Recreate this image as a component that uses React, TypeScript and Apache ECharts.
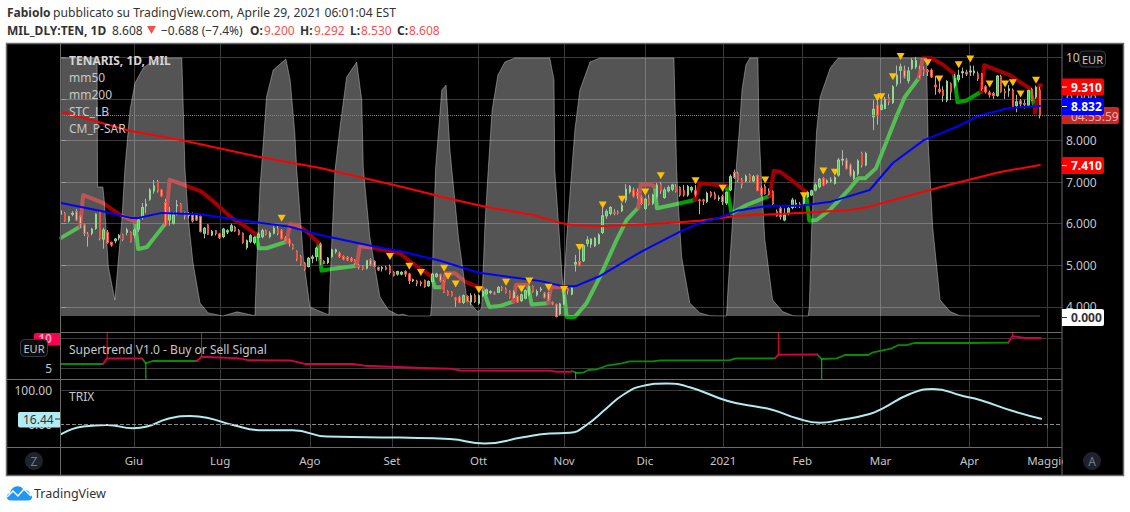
import React, { useEffect, useRef } from "react";
import * as echarts from "echarts";

// [open, close, low, high] per trading day
const ohlcSummer = [
  [6.23,6.31,6.17,6.35],[6.25,6.07,6.05,6.28],[6.07,6.17,6.03,6.19],[6.23,6.25,6.18,6.3],[6.29,6.09,6.07,6.36],
  [6.17,6,5.9,6.2],[5.97,5.77,5.7,6],[5.75,5.69,5.45,5.8],[5.77,5.87,5.72,5.9],[5.89,6.23,5.85,6.25],
  [6.28,5.65,5.6,6.32],[5.63,5.85,5.4,5.9],[5.79,5.55,5.52,5.85],[5.55,5.49,5.45,5.57],[5.59,5.63,5.53,5.65],
  [5.66,5.72,5.6,5.75],[5.73,5.63,5.58,5.76],[5.79,5.85,5.72,5.9],[5.79,5.57,5.55,5.82],[5.73,5.85,5.65,5.9],
  [5.87,6.09,5.8,6.12],[6.17,6.39,6.1,6.5],[6.43,6.47,6.25,6.6],[6.59,6.81,6.55,6.85],[6.79,6.91,6.72,7.05],
  [7.01,6.79,6.75,7.05],[6.81,6.67,6.65,6.83],[6.51,5.97,5.95,6.6],[6.09,6.25,5.95,6.4],[6.01,6.21,5.98,6.28],
  [6.43,6.45,6.2,6.57],[6.47,6.27,6.25,6.5],[6.21,6.19,6.1,6.29],[6.2,6.23,6.12,6.28],[6.21,6.07,6.03,6.27],
  [6.21,6.09,6.07,6.25],[6.17,5.81,5.79,6.2],[5.77,5.89,5.65,5.92],[5.97,5.75,5.73,5.99],[5.73,5.81,5.7,5.85],
  [5.83,5.77,5.72,5.85],[5.75,5.67,5.63,5.78],[5.69,5.87,5.65,5.9],[5.8,5.83,5.75,5.87],[5.83,5.95,5.8,6],
  [5.91,5.83,5.8,5.95],[5.83,5.75,5.72,5.87],[5.77,5.55,5.52,5.79],[5.43,5.59,5.38,5.62],[5.57,5.71,5.53,5.75],
  [5.55,5.67,5.5,5.7],[5.67,5.75,5.62,5.8],[5.69,5.83,5.65,5.88],[5.83,5.75,5.72,5.86],[5.69,5.77,5.65,5.82],
  [5.77,5.89,5.74,5.95],[5.87,5.77,5.72,5.97],[5.83,5.65,5.62,5.87],[5.65,5.61,5.58,5.7],[5.61,5.53,5.45,5.65],
  [5.49,5.41,5.38,5.52],[5.33,5.15,5.1,5.36],[5.21,5.03,5,5.25],[5.05,4.91,4.87,5.08],[4.97,5.17,4.95,5.2],
  [5.17,5.2,5.05,5.25],[5.21,5.41,5.1,5.45],[5.51,5.13,5,5.55],[5.09,5.05,5.03,5.12],[5.07,5.17,5.03,5.2],
  [5.21,5.37,5.18,5.4],[5.33,5.37,5.28,5.4],[5.29,5.21,5.18,5.33],[5.21,5.15,5.12,5.24],[5.19,5.13,5.1,5.22],
  [5.16,5.11,5.08,5.2],[5.11,5.05,5.02,5.15],[5,4.95,4.9,5.03],[4.97,4.92,4.88,5],[4.93,5.11,4.9,5.13],
  [5.13,5.01,4.98,5.17],[5.09,4.97,4.95,5.12],[4.95,4.89,4.87,4.97],[4.93,4.95,4.85,4.98],[4.95,4.91,4.88,4.99],
  [4.97,4.83,4.78,5.02],[4.83,4.76,4.73,4.86],[4.79,4.85,4.75,4.87],
];
const ohlcAutumn = [
  [4.79,4.83,4.76,4.86],[4.85,4.79,4.72,4.88],[4.79,4.63,4.55,4.82],[4.63,4.65,4.6,4.68],[4.62,4.57,4.5,4.65],
  [4.59,4.57,4.5,4.63],[4.63,4.49,4.46,4.66],[4.51,4.61,4.48,4.64],[4.61,4.79,4.58,4.82],[4.73,4.79,4.7,4.82],
  [4.77,4.63,4.6,4.8],[4.61,4.35,4.33,4.64],[4.37,4.29,4.27,4.4],[4.35,4.27,4.25,4.38],[4.21,4.17,4,4.24],
  [4.23,4.11,4.09,4.27],[4.11,4.27,4.07,4.3],[4.25,4.13,4.11,4.28],[4.12,4.27,4.05,4.33],[4.27,4.13,4.1,4.32],
  [4.09,4.27,4.05,4.3],[4.27,4.37,4.24,4.4],[4.31,4.41,4.28,4.44],[4.35,4.37,4.31,4.4],[4.33,4.31,4.29,4.37],
  [4.35,4.47,4.33,4.5],[4.46,4.43,4.38,4.5],[4.43,4.35,4.32,4.47],[4.37,4.23,4.2,4.4],[4.23,4.35,4.2,4.4],
  [4.25,4.12,4.1,4.28],[4.15,4.29,4.12,4.32],[4.21,4.39,4.18,4.42],[4.29,4.49,4.26,4.52],[4.49,4.37,4.34,4.52],
  [4.29,4.37,4.25,4.42],[4.41,4.43,4.36,4.48],[4.33,4.23,4.2,4.36],[4.33,4.17,4.14,4.36],[4.11,4.07,4.04,4.13],
  [4.05,3.77,3.75,4.08],[3.83,4.07,3.8,4.1],[4.07,4.29,4.05,4.33],[4.43,4.39,4.3,4.45],[4.31,4.45,4.28,4.47],
  [5.03,5.07,4.85,5.25],[5.09,5.01,4.98,5.35],[5.11,5.47,5.08,5.5],[5.53,5.61,5.45,5.7],[5.51,5.63,5.42,5.65],
  [5.47,5.65,5.44,5.68],[5.53,5.73,5.5,5.77],[5.79,6.19,5.75,6.4],[6.19,6.29,6.12,6.35],[6.25,6.39,6.2,6.42],
  [6.27,6.25,6.2,6.35],[6.28,6.26,6.22,6.32],[6.31,6.43,6.28,6.5],[6.57,6.83,6.5,6.95],[6.77,6.89,6.72,6.93],
  [6.81,6.67,6.63,6.87],[6.75,6.67,6.6,6.85],[6.63,6.49,6.45,6.68],[6.37,6.59,6.33,6.62],[6.61,6.47,6.44,6.7],
  [6.49,6.69,6.45,6.72],[6.65,6.93,6.6,6.98],[6.95,6.79,6.72,7],[6.63,6.81,6.6,6.87],[6.79,6.87,6.75,6.92],
  [6.83,6.93,6.78,6.96],[6.89,6.79,6.75,6.95],[6.87,6.69,6.65,6.9],[6.79,6.69,6.65,6.93],[6.69,6.89,6.65,6.93],
  [6.81,6.87,6.75,6.9],[6.79,6.71,6.65,6.93],[6.57,6.55,6.23,6.6],[6.57,6.55,6.45,6.6],[6.53,6.73,6.5,6.77],
  [6.75,6.67,6.63,6.78],[6.71,6.61,6.58,6.77],[6.6,6.62,6.55,6.68],
];
const ohlcWinter = [
  [6.65,6.53,6.45,6.7],[6.5,6.75,6.45,6.78],[6.81,7.13,6.78,7.18],[7.23,7.11,7.08,7.3],[7.2,7.05,7,7.25],
  [7.05,6.95,6.85,7.1],[7.03,7.14,7,7.18],[7.17,7.03,7,7.2],[7.03,7.13,7,7.17],[7.15,6.8,6.78,7.18],
  [6.85,6.71,6.65,6.9],[6.89,6.73,6.7,6.95],[6.78,6.71,6.68,6.85],[6.77,6.49,6.45,6.8],[6.29,6.19,6.17,6.34],
  [6.37,6.17,6.1,6.42],[6.09,6.21,6.06,6.37],[6.25,6.37,6.2,6.4],[6.39,6.57,6.35,6.62],[6.47,6.49,6.38,6.58],
  [6.47,6.43,6.38,6.52],[6.49,6.67,6.45,6.7],[6.65,6.75,6.62,6.78],[6.69,6.79,6.66,6.82],[6.81,6.93,6.78,6.97],
  [6.89,7.07,6.85,7.1],[7.09,6.93,6.9,7.12],[7,7.03,6.95,7.07],[7.03,7.05,6.98,7.12],[6.97,7.11,6.94,7.14],
  [7.17,7.53,7.13,7.58],[7.53,7.55,7.4,7.77],[7.53,7.33,7.3,7.58],
  [7.41,7.17,7.13,7.45],[7.09,7.25,7.05,7.3],[7.2,7.51,7.15,7.55],[7.69,7.41,7.35,7.73],[7.41,7.69,7.38,7.73],
];
// an empty slot in the bar grid sits at the March price gap
const gapBars = 1;
const ohlcSpring = [
  [8.57,8.75,8.25,8.97],[8.85,8.61,8.38,8.97],[8.75,8.85,8.73,8.97],[8.77,8.99,8.75,9.05],[9.02,8.93,8.85,9.12],
  [8.91,9.29,8.88,9.33],[9.36,9.57,9.3,9.8],[9.69,9.77,9.37,9.85],[9.69,9.53,9.49,9.8],[9.44,9.67,9.37,9.77],
  [9.74,9.92,9.7,9.98],[9.77,9.92,9.72,10.01],[9.71,9.57,9.5,9.8],[9.7,9.65,9.55,9.78],[9.68,9.66,9.55,9.72],
  [9.69,9.53,9.5,9.73],[9.33,9.29,9.1,9.55],[9.23,9.18,9.13,9.4],[9.21,9.08,8.93,9.3],[8.97,9.42,8.92,9.45],
  [9.36,9.17,8.97,9.4],[9.31,9.49,9.25,9.6],[9.47,9.57,9.4,9.7],[9.63,9.65,9.5,9.75],[9.64,9.6,9.55,9.7],
  [9.65,9.67,9.55,9.8],[9.63,9.67,9.56,9.8],[9.6,9.49,9.43,9.66],[9.6,9.25,9.2,9.62],[9.29,9.17,9.13,9.33],
  [9.15,9.1,9.03,9.2],[9.13,9.08,9,9.17],[9.08,9.55,9.05,9.57],[9.53,9.17,9.15,9.58],[9.18,9.15,9,9.25],
  [9.2,9.24,9.05,9.33],[9.21,8.81,8.78,9.25],[8.84,8.93,8.68,9.1],[8.95,8.88,8.78,9],[8.89,8.87,8.77,8.98],
  [8.85,9.2,8.82,9.22],[9.23,8.97,8.95,9.26],[9.05,9.28,9,9.32],[9.2,8.608,8.53,9.292],
];

// [bar, value] readings
const mm50 = [[0,6.5],[10,6.31],[18,6.14],[20,6.14],[26,6.26],[36,6.23],[46,6.09],[59,5.93],[67,5.73],[80,5.47],[88,5.33],[98,5.11],[108,4.82],[124,4.62],[130,4.49],[133,4.5],[139,4.73],[150,5.33],[160,5.81],[165,6.02],[170,6.14],[175,6.32],[183,6.43],[191,6.43],[199,6.53],[204,6.67],[209,6.81],[215,7.46],[223,8.01],[232,8.35],[237,8.59],[245,8.78],[253,8.832]];
const mm200 = [[0,8.69],[18,8.23],[31,8.01],[51,7.61],[67,7.34],[88,6.89],[101,6.59],[110,6.4],[122,6.21],[129,6.02],[132,5.97],[139,5.94],[148,5.97],[157,6.02],[165,6.07],[175,6.19],[191,6.26],[204,6.33],[209,6.41],[217,6.62],[230,6.95],[243,7.25],[253,7.41]];
const stcLb = [[0,100],[9.3,100],[9.4,50],[10.8,50],[11.2,43.8],[12.2,19.1],[13.9,6.2],[14.8,21.7],[15.7,37.2],[16.5,57.4],[17.8,79.8],[19.1,90.3],[21.2,96.1],[24.8,100],[31.2,100],[32,57.4],[32.9,37.2],[34.1,20.5],[35.9,5],[38,1.2],[41.8,0],[45.5,1.6],[50.1,0.1],[50.5,17.8],[51.4,50],[51.8,57.4],[53.1,84.9],[54.8,95.3],[58.1,99.6],[59.2,91.5],[60.4,70.9],[60.9,56.6],[62.6,22.9],[64.3,3.5],[66.1,2.3],[68.6,0.8],[69.2,0.4],[69.5,12.8],[70.8,56.6],[72.1,73.3],[73.8,92.6],[76.4,98.4],[77.7,83.7],[78.1,57.4],[79.8,30.6],[82.4,7.4],[84.6,2.3],[87.1,0.4],[88.4,0.7],[89.7,0],[95.5,0],[95.8,5],[96.2,30.6],[96.8,57.4],[98.4,87.6],[99.5,89.5],[100.5,64.3],[101,56.6],[102.7,30.6],[104.8,7.4],[106.5,3.5],[107.8,1.6],[108.7,3.1],[109.1,17.8],[109.6,37.2],[110.4,56.6],[111.4,79.8],[112.9,93.4],[114.7,98.4],[117.3,100],[126.3,100],[127.4,91.5],[127.6,56.6],[128.5,37.2],[129.8,8.9],[130.7,30.6],[132,56.6],[132.8,72.1],[134.1,87.6],[136.7,98.4],[139.3,100],[158.4,100],[159.1,56.6],[159.5,43.8],[160.4,22.9],[162.5,5],[165.1,1.2],[167.7,0.1],[172,0],[172.4,11.2],[173.7,39.9],[174.6,59.3],[175.3,72.1],[176,87.6],[177,97.3],[178,100],[180.1,100],[180.4,72.1],[181,52.7],[181.9,29.5],[183.9,6.2],[186.5,1.7],[189.2,0.1],[193.1,0],[193.4,3.5],[194,34],[195.3,72.1],[196.2,84.9],[198.8,96.1],[200.8,99.9],[223.7,100],[224.1,68.2],[225.3,34.1],[227.2,6.2],[229.8,1.7],[232.3,0.1],[235.7,0],[253,0]];

const psarGreen = [
  [[0,5.66],[4.9,5.93]],
  [[19.1,6.05],[19.9,5.39],[22.2,5.44],[24.3,5.69],[27.1,6.02]],
  [[50.3,5.75],[51.1,5.41],[53.1,5.41],[58.3,5.57]],
  [[66.5,5.54],[67.3,4.87],[69.9,4.91],[76.4,4.99]],
  [[95.8,4.73],[96.6,4.47],[98.6,4.47]],
  [[109,4.43],[110.7,4],[113.4,4.02],[116.9,4.13]],
  [[120.7,4.53],[121.6,4.06],[125.9,4.09]],
  [[129.8,4.47],[130.7,3.76],[132.8,3.76],[135.8,4.09],[139.3,4.73],[143.6,5.61],[146.2,6.09],[149.2,6.39]],
  [[153.5,6.89],[154,6.37],[156.5,6.42],[163.8,6.57]],
  [[172,6.91],[173.3,6.25],[177.2,6.45],[183.2,6.67]],
  [[192.5,6.77],[193.4,6.07],[195.3,6.09],[198.7,6.33],[203.9,6.85],[206,7.09],[207.8,7.09],[210.6,7.33],[215.9,8.57],[218.1,9.05],[221.7,9.5]],
  [[230.8,9.6],[231.7,8.92],[234,8.96],[237.8,9.17]],
  [[250.4,9.25],[251.5,8.85]],
];
const psarRed = [
  [[4.9,5.93],[5.7,6.69],[10.8,6.5],[15.2,6.21],[19.1,6.05]],
  [[27.1,6.02],[28,7.05],[29.9,7],[36.3,6.77],[39.8,6.5],[44.1,6.14],[47,5.97],[50.3,5.75]],
  [[58.3,5.57],[59.2,5.99],[60.9,5.97],[63.5,5.81],[66.5,5.54]],
  [[76.4,4.99],[77.2,5.46],[80.3,5.43],[87.6,5.29],[88.5,5.22],[90.6,5.06],[95.8,4.73]],
  [[98.6,4.47],[99.4,4.81],[101.8,4.81],[104.4,4.61],[109,4.43]],
  [[116.9,4.13],[117.6,4.53],[120.7,4.53]],
  [[125.9,4.09],[126.6,4.47],[129.8,4.47]],
  [[149.2,6.39],[149.8,6.93],[152.2,6.95],[153.5,6.89]],
  [[163.8,6.57],[165.1,6.97],[172,6.91]],
  [[183.2,6.67],[184.2,7.27],[185.8,7.25],[188.8,7.05],[192.5,6.77]],
  [[221.7,9.5],[222.7,9.98],[225,9.98],[228,9.82],[230.8,9.6]],
  [[237.8,9.17],[238.6,9.81],[245.2,9.57],[250.4,9.25]],
  [[251.7,8.85],[251.7,8.67],[252.9,9.33],[253.3,9.33]],
];
const sarSignals = [[57,6.13],[85,5.21],[90,4.98],[93,4.83],[99,4.93],[100,4.74],[102,4.55],[108,4.41],[115,4.59],[119,4.43],[121,4.62],[126,4.47],[130,4.42],[134,5.43],[140,6.45],[145,6.59],[151,6.76],[155,7.15],[164,7.03],[171,6.85],[182,7.05],[192,6.67],[197,7.27],[200,7.24],[211,9.03],[212,9.05],[215,9.53],[217,10.02],[224,9.87],[227,9.48],[232,9.82],[235,9.96],[240,9.36],[244,9.36],[246,9.39],[248,9.12],[252,9.45]];

const stGreen = [
  [[0,5.67],[10.8,5.67]],
  [[20.9,6.6],[21.9,5.8],[23.7,6.17],[35.1,6.17]],
  [[132,4.5],[133.3,4.17],[134.9,4.22],[136.3,4.67],[138.4,4.78],[141,5.38],[144.9,5.78],[147,6.12],[153,6.12],[154.8,6.28],[172.9,6.33],[174.4,6.62],[184.5,6.62]],
  [[195.4,7.28],[196.6,6.5],[200.5,6.62],[202.6,7.17],[208.6,7.17],[209.9,7.62],[214.7,8.28],[216.4,8.83],[218.5,8.83],[220.7,9.17],[234,9.17],[244.8,9.22]],
];
const stRed = [
  [[10.8,5.67],[11.9,6.6],[20.9,6.6]],
  [[35.1,6.17],[36.3,6.88],[46.2,6.6],[48.3,6.33],[59.2,6.28],[63,5.67],[75.4,5.67],[78.5,5.38],[93.5,5],[100.5,4.9],[103.1,4.6],[126.3,4.55],[128.1,4.38],[132,4.38]],
  [[184.5,6.62],[185.4,7.22],[195.4,7.28]],
  [[244.8,9.22],[245.9,10.33],[249.1,10],[253.2,10]],
];
const stBuySpikes = [[[21.9,5.8],[21.9,3.17]],[[133,4.3],[133,3.17]],[[196.6,6.5],[196.6,3.17]]];
const stSellSpikes = [[[11.9,6.6],[11.9,11]],[[36.3,6.88],[36.3,11]],[[185.4,7.22],[185.4,11]],[[245.9,10.33],[245.9,11]]];

const trix = [[0,-28],[5.7,-6],[11.9,-1.4],[18.6,-11],[22.2,-6],[27.4,16],[33.3,24.6],[37.7,19.7],[44.4,-1.4],[52.2,-17],[59.9,-17],[68.7,-35],[79.1,-37],[87.6,-38],[100.5,-42],[109.5,-55],[119.4,-37],[126.3,-26],[131.5,-24],[135.8,-1.4],[141,47],[145.2,85.5],[150.4,112],[156.6,119],[162.5,108],[172.1,69],[178.8,53.6],[184,42],[190.2,18],[196.1,5.2],[201.3,13],[209,30.4],[212.4,47],[219.4,88.4],[225.3,103],[233.1,82.6],[237.5,71],[246,39],[253.3,16.44]];

const monthBars = [18.8, 41.1, 64.3, 85.5, 107.9, 130, 150.9, 171.1, 191.6, 211.8, 234.8, 255];
const monthNames = ["Giu", "Lug", "Ago", "Set", "Ott", "Nov", "Dic", "2021", "Feb", "Mar", "Apr", "Maggio"];
const priceTicks = [4, 5, 6, 7, 8, 9, 10];
const lastPrice = 8.608;

const FONT = '"Noto Sans", sans-serif';
const GRIDLINE = "#3a3a3a";
const FRAME = "#6b6b6b";
const LABEL = "#c6c6c6";

echarts.graphic.registerShape(
  "tvCloud",
  echarts.graphic.extendPath(
    "M5 15 C0 15 -1 9 4 7.5 C5 3 9 0 13 1 C15 1 17 3 18 5 C21 4 24 6 24 9 C27 10 27 15 22 15 Z",
    {}
  )
);

function txt(text: string, x: number, y: number, fill: string, size = 12, weight = "normal", align = "left") {
  return {
    type: "text",
    x,
    y,
    style: { text, fill, font: `${weight} ${size}px ${FONT}`, align, verticalAlign: "middle" },
  };
}
function tag(label: string, y: number, bg: string, color: string) {
  return [
    { type: "rect", shape: { x: 1062, y: y - 8.5, width: 42, height: 17, r: [0, 2, 2, 0] }, style: { fill: bg } },
    { type: "line", shape: { x1: 1062, y1: y, x2: 1067, y2: y }, style: { stroke: color, lineWidth: 1 } },
    txt(label, 1071, y, color, 12, "bold"),
  ];
}
function lineSeries(data: number[][], xAxisIndex: number, yAxisIndex: number, color: string, width: number, z: number, smooth = false) {
  return {
    type: "line",
    data,
    xAxisIndex,
    yAxisIndex,
    z,
    smooth,
    symbol: "none",
    silent: true,
    lineStyle: { color, width, join: "round", cap: "round" },
  };
}
function xAxisFor(gridIndex: number, labels: boolean) {
  return {
    type: "value",
    gridIndex,
    min: -0.29,
    max: 258.71,
    axisLine: { show: false },
    axisTick: { show: labels, customValues: monthBars, length: 4, lineStyle: { color: FRAME } },
    axisLabel: {
      show: labels,
      customValues: monthBars,
      color: LABEL,
      fontFamily: FONT,
      fontSize: 11.5,
      margin: 7,
      formatter: (v: number) => monthNames[monthBars.indexOf(v)] ?? "",
    },
    splitLine: { show: true, lineStyle: { color: GRIDLINE, width: 1 } },
  };
}

export default function App() {
  const ref = useRef<HTMLDivElement>(null);
  useEffect(() => {
    const chart = echarts.init(ref.current!, undefined, { renderer: "svg" });
    const elements: any[] = [
      // header
      txt("Fabiolo", 7, 12, "#333", 12, "bold"),
      txt("pubblicato su TradingView.com, Aprile 29, 2021 06:01:04 EST", 53, 12, "#333", 12.15),
      txt("MIL_DLY:TEN, 1D", 7, 30, "#333", 12, "bold"),
      txt("8.608", 112, 30, "#333"),
      { type: "polygon", shape: { points: [[147, 26], [156, 26], [151.5, 34]] }, style: { fill: "#ef5350" } },
      txt("\u22120.688 (\u22127.4%)", 161, 30, "#333"),
      txt("O:", 250, 30, "#333", 12, "bold"),
      txt("9.200", 264, 30, "#ef5350"),
      txt("H:", 300, 30, "#333", 12, "bold"),
      txt("9.292", 314, 30, "#ef5350"),
      txt("L:", 350, 30, "#333", 12, "bold"),
      txt("8.530", 361, 30, "#ef5350"),
      txt("C:", 397, 30, "#333", 12, "bold"),
      txt("8.608", 409, 30, "#ef5350"),
      // clipped end of the last month label
      { type: "rect", shape: { x: 1063, y: 449, width: 8, height: 22 }, style: { fill: "#000" } },
      // frame and pane separators
      { type: "rect", shape: { x: 6.5, y: 43.5, width: 1117, height: 432 }, style: { fill: "none", stroke: FRAME, lineWidth: 1.5 } },
      { type: "line", shape: { x1: 60.5, y1: 43, x2: 60.5, y2: 475 }, style: { stroke: FRAME, lineWidth: 1 } },
      { type: "line", shape: { x1: 1062, y1: 43, x2: 1062, y2: 475 }, style: { stroke: FRAME, lineWidth: 1 } },
      { type: "line", shape: { x1: 60, y1: 332.5, x2: 1062, y2: 332.5 }, style: { stroke: FRAME, lineWidth: 1 } },
      { type: "line", shape: { x1: 6, y1: 379.5, x2: 1062, y2: 379.5 }, style: { stroke: FRAME, lineWidth: 1 } },
      { type: "line", shape: { x1: 6, y1: 447.5, x2: 1062, y2: 447.5 }, style: { stroke: FRAME, lineWidth: 1 } },
      // pane titles
      txt("TENARIS, 1D, MIL", 69, 60, "#d4d4d4", 12, "bold"),
      txt("mm50", 69, 77, "#c8c8c8"),
      txt("mm200", 69, 94, "#c8c8c8"),
      txt("STC_LB", 69, 111, "#c8c8c8"),
      txt("CM_P-SAR", 69, 128, "#c8c8c8"),
      txt("Supertrend V1.0 - Buy or Sell Signal", 69, 349, "#c8c8c8"),
      txt("TRIX", 69, 396, "#c8c8c8"),
      // price tags
      { type: "rect", shape: { x: 1062, y: 107, width: 57, height: 17, r: [0, 2, 2, 0] }, style: { fill: "#c62828" } },
      txt("04:55:59", 1071, 116, "#eeb0a8"),
      ...tag("9.310", 87, "#ff0000", "#fff"),
      ...tag("8.832", 106.5, "#0000ff", "#fff"),
      ...tag("7.410", 165.6, "#ff0000", "#fff"),
      ...tag("0.000", 317.5, "#ffffff", "#333"),
      // EUR buttons
      { type: "rect", shape: { x: 1079.5, y: 51, width: 26, height: 16, r: 4 }, style: { fill: "#0c0c0c", stroke: "#363a45" } },
      txt("EUR", 1092.5, 59.5, "#c8c8c8", 11, "normal", "center"),
      // left-hand tags
      { type: "rect", shape: { x: 34, y: 333, width: 26, height: 12.5, r: [2, 0, 0, 2] }, style: { fill: "#ff0050" } },
      txt("10", 45, 338, "#ff9ab8", 12, "bold", "center"),
      { type: "rect", shape: { x: 20.5, y: 339.5, width: 27, height: 17, r: 4 }, style: { fill: "#0c0c0c", stroke: "#363a45" } },
      txt("EUR", 34, 348, "#c8c8c8", 11, "normal", "center"),
      { type: "rect", shape: { x: 18, y: 412, width: 42, height: 15.5, r: [2, 0, 0, 2] }, style: { fill: "#b2ebf2" } },
      { type: "line", shape: { x1: 55, y1: 419, x2: 60, y2: 419 }, style: { stroke: "#333", lineWidth: 1 } },
      txt("16.44", 23, 419.5, "#333"),
      // Z / A buttons
      { type: "circle", shape: { cx: 34, cy: 461, r: 9 }, style: { fill: "#1e222d" } },
      txt("Z", 34, 461, "#787b86", 12, "normal", "center"),
      { type: "circle", shape: { cx: 1092, cy: 461, r: 9 }, style: { fill: "#1e222d" } },
      txt("A", 1092, 461, "#787b86", 12, "normal", "center"),
      // attribution
      { type: "tvCloud", x: 6, y: 485.5, style: { fill: "#2196f3" } },
      { type: "polyline", shape: { points: [[7, 497], [13, 491], [18, 496], [24, 489], [31, 496]] }, style: { stroke: "#fff", lineWidth: 1.5, fill: "none" } },
      txt("TradingView", 34, 493.5, "#333", 12.5),
    ].map((el) => ({ ...el, z: 100, z2: 100, zlevel: 1 }));

    const before = [...ohlcSummer, ...ohlcAutumn, ...ohlcWinter];
    const barOf = (i: number) => (i < before.length ? i : i + gapBars);
    const candles = [...before, ...ohlcSpring];
    const wickData = candles.map((c, i) => [barOf(i), ...c]);
    const bodyData = candles.map((c, i) => [barOf(i), c[0], c[1], Math.min(c[0], c[1]), Math.max(c[0], c[1])]);

    const series: any[] = [
      ...psarGreen.map((s) => lineSeries(s, 0, 0, "#00a000", 4, 1)),
      ...psarRed.map((s) => lineSeries(s, 0, 0, "#a00000", 4, 1)),
      {
        type: "line",
        name: "STC_LB",
        data: stcLb,
        xAxisIndex: 0,
        yAxisIndex: 1,
        z: 2,
        symbol: "none",
        silent: true,
        lineStyle: { color: "rgba(255,255,255,0.35)", width: 1 },
        areaStyle: { color: "rgba(255,255,255,0.33)", opacity: 1 },
      },
      {
        type: "candlestick",
        name: "wicks",
        data: wickData,
        xAxisIndex: 0,
        yAxisIndex: 0,
        z: 3,
        silent: true,
        barWidth: 2,
        itemStyle: { color: "transparent", color0: "transparent", borderColor: "#b4b4b4", borderColor0: "#b4b4b4", borderWidth: 1 },
        markLine: {
          silent: true,
          symbol: "none",
          label: { show: false },
          lineStyle: { color: "#ef5350", type: "dotted", width: 1 },
          data: [{ yAxis: lastPrice }],
        },
      },
      {
        type: "candlestick",
        name: "bodies",
        data: bodyData,
        xAxisIndex: 0,
        yAxisIndex: 0,
        z: 3,
        silent: true,
        barWidth: 2,
        itemStyle: { color: "#52c85a", color0: "#ffb090", borderColor: "#8fdc90", borderColor0: "#f0503c", borderWidth: 1 },
      },
      { ...lineSeries(mm200, 0, 0, "#ff0000", 2, 4) },
      { ...lineSeries(mm50, 0, 0, "#0000ff", 2, 4) },
      {
        type: "scatter",
        name: "CM_P-SAR",
        data: sarSignals,
        xAxisIndex: 0,
        yAxisIndex: 0,
        z: 5,
        silent: true,
        symbol: "triangle",
        symbolRotate: 180,
        symbolSize: [8, 7],
        itemStyle: { color: "#ffc000", opacity: 1 },
      },
      ...stGreen.map((s) => lineSeries(s, 1, 2, "#0a8c00", 1.8, 3)),
      ...stRed.map((s) => lineSeries(s, 1, 2, "#d4004a", 1.8, 3)),
      ...stBuySpikes.map((s) => lineSeries(s, 1, 2, "#14c814", 1, 3)),
      ...stSellSpikes.map((s) => lineSeries(s, 1, 2, "#ff0022", 1, 3)),
      {
        ...lineSeries(trix, 2, 3, "#b2ebf2", 2, 3, true),
        markLine: {
          silent: true,
          symbol: "none",
          label: { show: false },
          lineStyle: { color: "#8a8a8a", type: "dashed", width: 1 },
          data: [{ yAxis: 0 }],
        },
      },
    ];

    chart.setOption({
      animation: false,
      backgroundColor: "transparent",
      tooltip: { show: false },
      grid: [
        { left: 60, top: 43, width: 1002, height: 289 },
        { left: 60, top: 332, width: 1002, height: 47 },
        { left: 60, top: 379, width: 1002, height: 68 },
      ],
      xAxis: [xAxisFor(0, false), xAxisFor(1, false), xAxisFor(2, true)],
      yAxis: [
        {
          type: "value",
          gridIndex: 0,
          position: "right",
          min: 3.397,
          max: 10.344,
          axisLine: { show: false },
          axisTick: { show: true, customValues: priceTicks, length: 5, lineStyle: { color: FRAME } },
          axisLabel: {
            customValues: priceTicks,
            color: LABEL,
            fontFamily: FONT,
            fontSize: 12,
            margin: 4,
            formatter: (v: number) => v.toFixed(3),
          },
          splitLine: { show: true, lineStyle: { color: GRIDLINE, width: 1 } },
        },
        {
          type: "value",
          gridIndex: 0,
          position: "left",
          min: -6.2,
          max: 105.8,
          show: false,
          splitLine: { show: false },
        },
        {
          type: "value",
          gridIndex: 1,
          position: "left",
          min: 3.17,
          max: 11,
          axisLine: { show: false },
          axisTick: { show: false, customValues: [5, 10] },
          axisLabel: {
            customValues: [5],
            color: LABEL,
            fontFamily: FONT,
            fontSize: 12,
            margin: 8,
          },
          splitLine: { show: true, lineStyle: { color: GRIDLINE, width: 1 } },
        },
        {
          type: "value",
          gridIndex: 2,
          position: "left",
          min: -65.2,
          max: 131.9,
          axisLine: { show: false },
          axisTick: { show: false, customValues: [100] },
          axisLabel: {
            customValues: [0, 100],
            color: LABEL,
            fontFamily: FONT,
            fontSize: 12,
            margin: 8,
            formatter: (v: number) => v.toFixed(2),
          },
          splitLine: { show: true, lineStyle: { color: GRIDLINE, width: 1 } },
        },
      ],
      series,
      graphic: { z: 100, zlevel: 1, elements },
    });
    return () => chart.dispose();
  }, []);

  return (
    <div style={{ position: "absolute", left: 0, top: 0, width: 1130, height: 512, background: "#fff" }}>
      <div style={{ position: "absolute", left: 6, top: 43, width: 1118, height: 432, background: "#000" }} />
      <div ref={ref} style={{ position: "absolute", left: 0, top: 0, width: 1130, height: 512 }} />
    </div>
  );
}
